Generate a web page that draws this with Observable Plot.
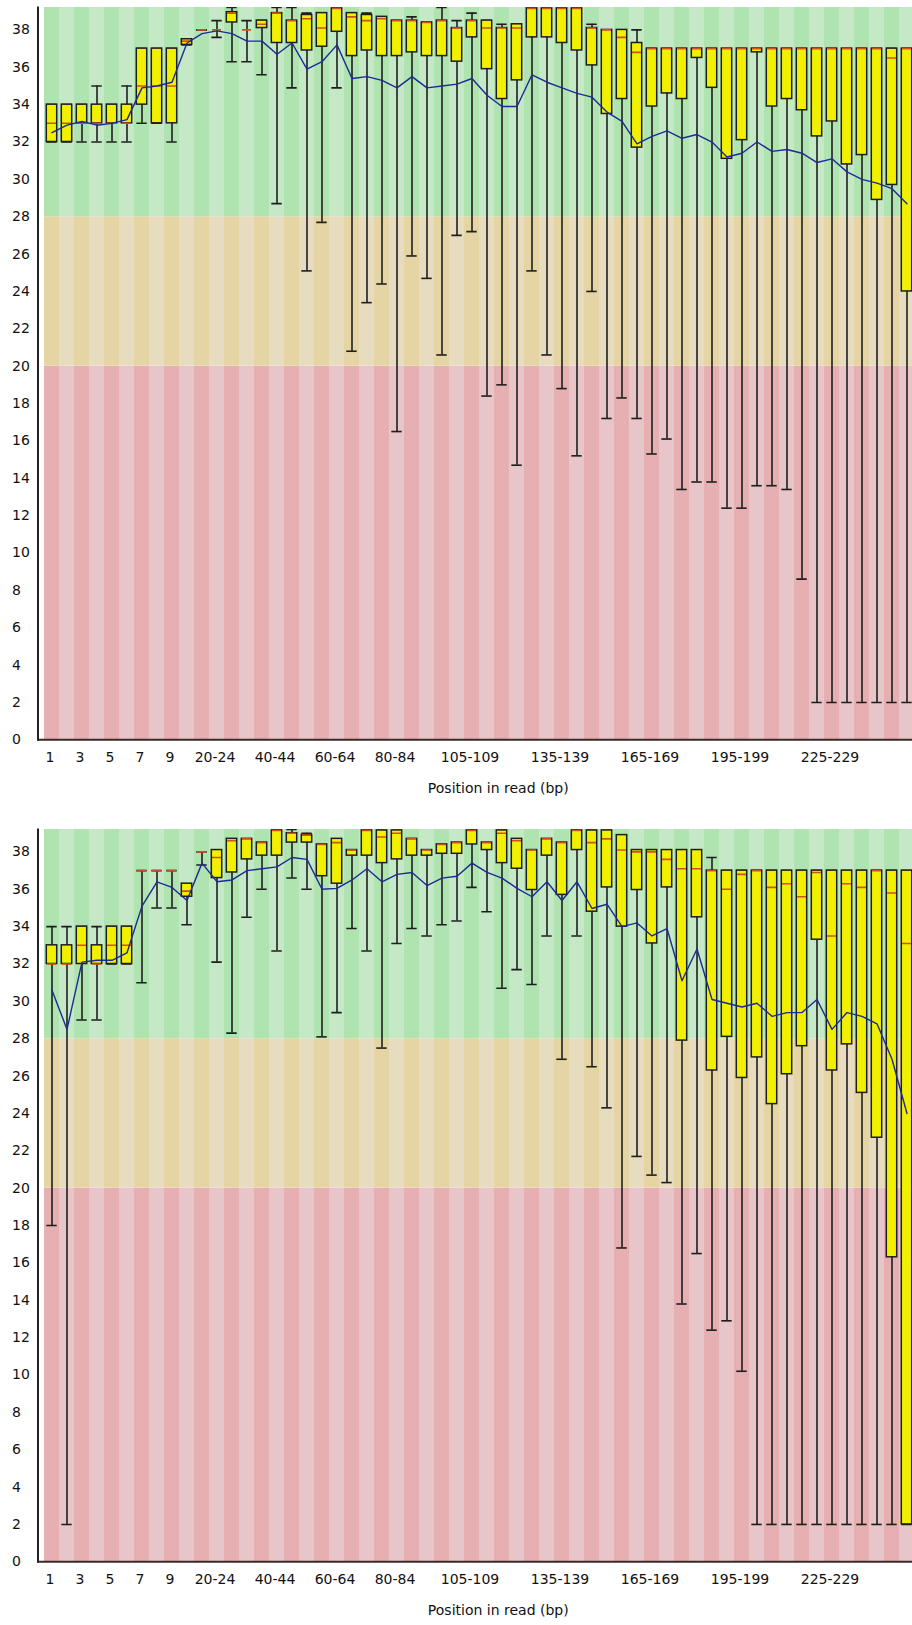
<!DOCTYPE html>
<html><head><meta charset="utf-8">
<script src="https://cdn.jsdelivr.net/npm/d3@7"></script>
<script src="https://cdn.jsdelivr.net/npm/@observablehq/plot@0.6"></script>
<style>html,body{margin:0;padding:0;background:#fff;overflow:hidden}svg{display:block}</style>
</head><body><div id="c"></div><script>
// Categories: base positions (FastQC grouping of a 251 bp read)
const cats = ["1","2","3","4","5","6","7","8","9"];
for (let s = 10; s <= 245; s += 5) cats.push(`${s}-${s + 4}`);
cats.push("250-251");

const xTicks = ["1","3","5","7","9","20-24","40-44","60-64","80-84","105-109","135-139","165-169","195-199","225-229"];
const yTicks = d3.range(0, 39, 2);
const xTitle = "Position in read (bp)";
const yMax = 39.2;
const zoneEdges = [0, 20, 28, yMax];

// ---- Panel 1 (top) ----
const topLow  = [32,32,32,32,32,32,33,33,32,37.2,38,37.6,36.3,36.3,35.6,28.7,34.9,25.1,27.7,34.9,20.8,23.4,24.4,16.5,25.9,24.7,20.6,27.0,27.2,18.4,19.0,14.7,25.1,20.6,18.8,15.2,24.0,17.2,18.3,17.2,15.3,16.1,13.4,13.8,13.8,12.4,12.4,13.6,13.6,13.4,8.6,2,2,2,2,2,2,2];
const topQ1   = [32,32,33,33,33,33,34,33,33,37.2,38,38,38.4,38,38.1,37.3,37.3,36.9,37.1,37.9,36.6,36.9,36.6,36.6,36.8,36.6,36.6,36.3,37.6,35.9,34.3,35.3,37.6,37.6,37.3,36.9,36.1,33.5,34.3,31.7,33.9,34.6,34.3,36.5,34.9,31.1,32.1,36.8,33.9,34.3,33.7,32.3,33.1,30.8,31.3,28.9,29.7,24.0];
const topMed  = [33,33,33,33,33,33,35,35,35,37.4,38,38,38.9,38,38.3,38.9,38.5,38.6,38.1,39.15,38.7,38.5,38.6,38.5,38.5,38.4,38.5,38.1,38.5,38.1,38.1,38.1,39.15,39.15,39.15,39.15,38.1,38,37.6,36.8,37,37,37,37,37,37,37,37,37,37,37,37,37,37,37,37,36.5,37];
const topQ3   = [34,34,34,34,34,34,37,37,37,37.5,38,38,38.95,38,38.5,38.9,38.5,38.8,38.9,39.15,38.9,38.8,38.7,38.5,38.5,38.4,38.5,38.1,38.5,38.5,38.1,38.3,39.15,39.15,39.15,39.15,38.1,38,38,37.3,37,37,37,37,37,37,37,37,37,37,37,37,37,37,37,37,37,37];
const topHigh = [34,34,34,35,34,35,37,37,37,37.5,38,38.5,39.2,38.5,38.5,39.2,39.2,38.9,38.9,39.15,38.9,38.9,38.7,38.5,38.7,38.4,39.2,38.5,38.9,38.5,38.3,38.3,39.15,39.15,39.15,39.15,38.3,38,38,38,37,37,37,37,37,37,37,37,37,37,37,37,37,37,37,37,37,37];
const topMean = [32.5,32.9,33.1,32.9,33.0,33.2,34.9,35.0,35.2,37.3,37.8,37.95,37.8,37.4,37.4,36.7,37.3,35.9,36.3,37.2,35.4,35.5,35.3,34.9,35.5,34.9,35.0,35.1,35.4,34.5,33.9,33.9,35.6,35.2,34.9,34.6,34.4,33.6,33.1,31.9,32.3,32.6,32.2,32.4,32.0,31.2,31.4,32.0,31.5,31.6,31.4,30.9,31.1,30.4,30.0,29.8,29.5,28.7];

// ---- Panel 2 (bottom) ----
const botLow  = [18,2,29,29,32,32,31,35,35,34.1,37.3,32.1,28.3,34.5,36.0,32.7,36.6,36.0,28.1,29.4,33.9,32.7,27.5,33.1,33.9,33.5,34.1,34.3,36.1,34.8,30.7,31.7,30.9,33.5,26.9,33.5,26.5,24.3,16.8,21.7,20.7,20.3,13.8,16.5,12.4,12.9,10.2,2,2,2,2,2,2,2,2,2,2,2];
const botQ1   = [32,32,32,32,32,32,37,37,37,35.6,38,36.6,36.9,37.6,37.8,37.8,38.5,38.5,36.7,36.3,37.8,37.8,37.4,37.6,37.8,37.8,37.9,37.9,38.4,38.1,37.4,37.1,35.96,37.8,35.7,38.1,34.8,36.1,34.0,35.96,33.1,36.1,27.9,34.5,26.3,28.1,25.9,27.0,24.5,26.1,27.6,33.3,26.3,27.7,25.1,22.7,16.3,2.0];
const botMed  = [32,32,33,32,33,33,37,37,37,35.9,38,37.7,38.6,38.7,38.5,39.15,39.0,38.9,38.4,38.5,38.1,39.15,38.8,39.0,38.7,38.1,38.4,38.5,39.15,38.5,39.0,38.6,38.1,38.7,38.5,39.15,38.5,38.7,38.1,38,38,37.6,37.1,37.1,37,36.0,36.8,37,36.1,36.3,35.6,36.9,33.5,36.3,36.1,37.0,35.8,33.1];
const botQ3   = [33,33,34,33,34,34,37,37,37,36.3,38,38.1,38.7,38.7,38.5,39.15,39.0,38.9,38.4,38.7,38.1,39.15,39.15,39.15,38.7,38.1,38.4,38.5,39.15,38.5,39.15,38.7,38.1,38.7,38.5,39.15,39.15,39.15,38.9,38.1,38.1,38.1,38.1,38.1,37,37,37,37,37,37,37,37,37,37,37,37,37,37];
const botHigh = [34,34,34,34,34,34,37,37,37,36.3,38,38.1,38.7,38.7,38.5,39.15,39.2,39.0,38.4,38.7,38.1,39.15,39.15,39.15,38.7,38.1,38.4,38.5,39.15,38.5,39.15,38.7,38.1,38.7,38.5,39.15,39.15,39.15,38.9,38.1,38.1,38.1,38.1,38.1,37.7,37,37,37,37,37,37,37,37,37,37,37,37,37];
const botMean = [30.6,28.5,32.1,32.2,32.2,32.6,35.1,36.4,36.1,35.4,37.4,36.4,36.5,37.0,37.1,37.2,37.7,37.6,36.0,36.05,36.5,37.1,36.4,36.8,36.9,36.2,36.6,36.7,37.4,36.9,36.6,36.05,35.6,36.4,35.4,36.4,34.97,35.2,34.0,34.2,33.5,33.9,31.1,32.8,30.1,29.9,29.7,29.9,29.2,29.4,29.4,30.1,28.5,29.4,29.2,28.8,26.9,24.0];

// ---- Styles ----
const zoneColors = [["#e6afb2", "#e8c5c8"], ["#e6d5a4", "#e8dcc0"], ["#afe3b0", "#c5e8c6"]];
const boxFill = "#f0f000", ink = "#1e1e1e", medianColor = "#d2501e", meanColor = "#1c2a98";
const font = "'DejaVu Sans', Verdana, sans-serif";

const stripes = cats.flatMap((c, i) => zoneEdges.slice(0, -1).map((lo, k) => ({cat: c, lo, hi: zoneEdges[k + 1], fill: zoneColors[k][i % 2]})));

function panel(low, q1, med, q3, high, mean) {
  const rows = cats.map((c, i) => ({cat: c, low: low[i], q1: q1[i], med: med[i], q3: q3[i], high: high[i], mean: mean[i]}));
  const ins = {insetLeft: 2.3, insetRight: 2.3};
  return Plot.plot({
    width: 912, height: 822,
    marginLeft: 37.5, marginRight: 0, marginTop: 7, marginBottom: 82.7,
    style: {fontFamily: font, fontSize: "14px", background: "white", overflow: "hidden", color: "#111"},
    x: {type: "band", domain: cats, range: [37.5, 920.3], padding: 0, axis: null},
    y: {domain: [0, yMax], range: [739.3, 7], axis: null},
    marks: [
      Plot.barY(stripes, {x: "cat", y1: "lo", y2: "hi", fill: "fill", inset: 0, clip: true}),
      Plot.ruleX(rows, {x: "cat", y1: "low", y2: "high", stroke: ink, strokeWidth: 1.6, clip: true}),
      Plot.tickY(rows, {x: "cat", y: "low", stroke: ink, strokeWidth: 1.6, ...ins, clip: true}),
      Plot.tickY(rows, {x: "cat", y: "high", stroke: ink, strokeWidth: 1.6, ...ins, clip: true}),
      Plot.barY(rows, {x: "cat", y1: "q1", y2: "q3", fill: boxFill, stroke: ink, strokeWidth: 1.5, ...ins, clip: true}),
      Plot.tickY(rows, {x: "cat", y: "med", stroke: medianColor, strokeWidth: 1.6, insetLeft: 3, insetRight: 3, clip: true}),
      Plot.line(rows, {x: "cat", y: "mean", stroke: meanColor, strokeWidth: 1.4, clip: true}),
      Plot.ruleY([0], {stroke: "#3a2a2a", strokeWidth: 2}),
      Plot.frame({anchor: "left", stroke: "#222", strokeWidth: 2}),
      Plot.axisY({ticks: yTicks, tickSize: 0, tickPadding: 26, textAnchor: "start", fontSize: 14, fontFamily: font}),
      Plot.axisX({ticks: xTicks, tickSize: 0, tickPadding: 12, fontSize: 14, fontFamily: font, label: null, dx: -2}),
      Plot.text([xTitle], {frameAnchor: "bottom", dy: 53, dx: 23, fontSize: 14, fontFamily: font})
    ]
  });
}

const c = document.getElementById("c");
c.appendChild(panel(topLow, topQ1, topMed, topQ3, topHigh, topMean));
c.appendChild(panel(botLow, botQ1, botMed, botQ3, botHigh, botMean));
</script></body></html>
